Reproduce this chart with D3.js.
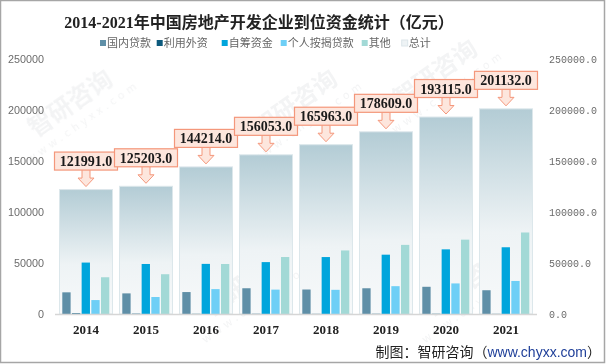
<!DOCTYPE html>
<html><head><meta charset="utf-8">
<script src="https://cdn.jsdelivr.net/npm/d3@7"></script>
<style>body{margin:0;background:#fff}svg{display:block}</style>
</head><body>
<svg id="c" width="606" height="364"></svg>
<script>
const years = ["2014","2015","2016","2017","2018","2019","2020","2021"];
const seriesNames = ["国内贷款","利用外资","自筹资金","个人按揭贷款","其他"];
const domesticLoans = [21243,20214,21512,25242,24005,25229,26676,23296];
const foreignCapital = [639,297,140,168,108,176,192,107];
const selfRaised = [50420,49038,49133,50872,55831,58158,63377,65428];
const mortgage = [13665,16662,24403,23906,23706,27281,29976,32388];
const others = [36024,38992,49026,55865,62313,67765,72894,79913];
const totals = [121991,125203,144214,156053,165963,178609,193115,201132];
const leftTicks = [0,50000,100000,150000,200000,250000];
const colors = ["#5f8fa7","#0d5a7d","#00a5dc","#6ecff6","#a2d9d6"];
const seriesVals = [domesticLoans,foreignCapital,selfRaised,mortgage,others];

const svg = d3.select("#c");
const defs = svg.append("defs");
const g1 = defs.append("linearGradient").attr("id","tg").attr("x1",0).attr("y1",0).attr("x2",0).attr("y2",1);
g1.append("stop").attr("offset","0%").attr("stop-color","#b3ccd5");
g1.append("stop").attr("offset","60%").attr("stop-color","#eef3f5");
g1.append("stop").attr("offset","100%").attr("stop-color","#f7f9fa");

// frame
svg.append("rect").attr("x",0.5).attr("y",0.5).attr("width",604).attr("height",362)
  .attr("fill","#fff").attr("stroke","#a6a6a6").attr("stroke-width",1.5);

const x = d3.scaleBand().domain(years).range([56,536]).padding(0);
const y = d3.scaleLinear().domain([0,250000]).range([314,59]);
const xi = d3.scaleBand().domain(seriesNames).range([-23.7,23.3]).paddingInner(0.14);

// watermarks
const wm = svg.append("g").attr("fill","#c9ccd0").attr("opacity",0.22)
  .style("font-family","'Noto Sans CJK SC',sans-serif");
const wmPos = [[75,110],[250,290],[440,80],[470,290],[300,110]];
wmPos.forEach(([a,b])=>{
  const t = wm.append("g").attr("transform",`translate(${a},${b}) rotate(-35)`);
  t.append("text").attr("font-size",24).attr("font-weight","bold").attr("text-anchor","middle").text("智研咨询");
  t.append("text").attr("y",18).attr("font-size",11).attr("letter-spacing",4).attr("text-anchor","middle").text("www.chyxx.com");
});

// total bars
svg.append("g").selectAll("rect").data(years).join("rect")
  .attr("x",d=>x(d)+x.bandwidth()/2-26.5).attr("width",53)
  .attr("y",(d,i)=>y(totals[i])).attr("height",(d,i)=>y(0)-y(totals[i]))
  .attr("fill","url(#tg)").attr("stroke","#dce7eb").attr("stroke-width",1);

// series bars
seriesNames.forEach((s,k)=>{
  svg.append("g").selectAll("rect").data(years).join("rect")
    .attr("x",d=>x(d)+x.bandwidth()/2+xi(s)).attr("width",xi.bandwidth())
    .attr("y",(d,i)=>y(seriesVals[k][i])).attr("height",(d,i)=>y(0)-y(seriesVals[k][i]))
    .attr("fill",colors[k]);
});

// baseline
svg.append("line").attr("x1",55).attr("x2",537).attr("y1",314.5).attr("y2",314.5)
  .attr("stroke","#d6d6d6").attr("stroke-width",1.5);

// axes
const la = svg.append("g").attr("transform","translate(44,0)")
  .call(d3.axisLeft(y).tickValues(leftTicks).tickSize(0).tickPadding(0).tickFormat(d3.format("d")));
la.select(".domain").remove();
la.selectAll("text").attr("fill","#6b6b6b").style("font-family","'Liberation Sans',sans-serif").style("font-size","10.8px");
const ra = svg.append("g").attr("transform","translate(549,0)")
  .call(d3.axisRight(y).tickValues(leftTicks).tickSize(0).tickPadding(0).tickFormat(d3.format(".1f")));
ra.select(".domain").remove();
ra.selectAll("text").attr("fill","#6b6b6b").style("font-family","'Liberation Mono',monospace").style("font-size","10px");

const xa = svg.append("g").attr("transform","translate(0,322)")
  .call(d3.axisBottom(x).tickSize(0).tickPadding(0));
xa.select(".domain").remove();
xa.selectAll("text").attr("fill","#222").attr("dy","0.9em").style("font-family","'Liberation Serif',serif")
  .style("font-weight","bold").style("font-size","13px");

// callouts
const co = svg.append("g");
years.forEach((yr,i)=>{
  const cx = x(yr)+x.bandwidth()/2;
  const top = y(totals[i]);
  const tip = top-3, bb = top-19.5, bt = bb-18;
  const headY = tip-8.5;
  const p = `M${cx-4},${bb} L${cx-4},${headY} L${cx-8},${headY} L${cx},${tip} L${cx+8},${headY} L${cx+4},${headY} L${cx+4},${bb}`;
  co.append("path").attr("d",p).attr("fill","#fde6dd").attr("stroke","#f4977b").attr("stroke-width",1);
  co.append("rect").attr("x",cx-31.5).attr("y",bt).attr("width",63).attr("height",18)
    .attr("fill","#fde6dd").attr("stroke","#f4977b").attr("stroke-width",1.2);
  co.append("text").attr("x",cx).attr("y",bt+9).attr("dy","0.36em").attr("text-anchor","middle")
    .attr("fill","#1a1a1a").style("font-family","'Liberation Serif',serif").style("font-weight","bold")
    .style("font-size","14px").text(d3.format(".1f")(totals[i]));
});

// title
svg.append("text").attr("x",259).attr("y",22).attr("dy","0.35em").attr("text-anchor","middle")
  .attr("fill","#222").style("font-family","'Liberation Serif','Noto Sans CJK SC',serif")
  .style("font-weight","bold").style("font-size","16px")
  .text("2014-2021年中国房地产开发企业到位资金统计（亿元）");

// legend
const legendItems = seriesNames.concat(["总计"]);
const legendColors = colors.concat(["#eef3f5"]);
const legendX = [100,156.7,221.7,280.7,361.7,401.7];
const lg = svg.append("g");
legendItems.forEach((n,i)=>{
  lg.append("rect").attr("x",legendX[i]).attr("y",40).attr("width",6).attr("height",6).attr("fill",legendColors[i])
    .attr("stroke",i===5?"#dde6ea":"none");
  lg.append("text").attr("x",legendX[i]+7).attr("y",43).attr("dy","0.36em").attr("fill","#666")
    .style("font-family","'Noto Sans CJK SC',sans-serif").style("font-size","11px").text(n);
});

// footer
const ft = svg.append("text").attr("x",601).attr("y",352).attr("dy","0.36em").attr("text-anchor","end")
  .style("font-family","'Noto Sans CJK SC',sans-serif").style("font-size","14px").attr("fill","#222");
ft.append("tspan").text("制图：智研咨询（");
ft.append("tspan").attr("fill","#1f3f99").style("font-family","'Liberation Sans',sans-serif").text("www.chyxx.com");
ft.append("tspan").text("）");
</script>
</body></html>
